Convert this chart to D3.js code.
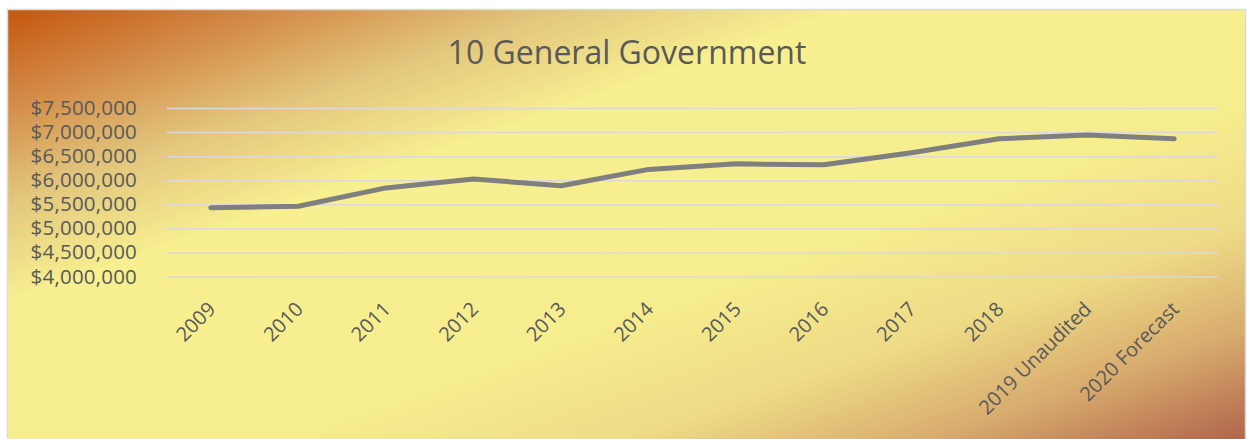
<!DOCTYPE html>
<html>
<head>
<meta charset="utf-8">
<script src="https://cdn.jsdelivr.net/npm/d3@7"></script>
<style>
  body { margin: 0; background: #fff; }
  svg text { font-family: "Open Sans", sans-serif; fill: #595959; }
</style>
</head>
<body>
<svg id="chart" width="1247" height="439"></svg>
<script>
const years = ["2009", "2010", "2011", "2012", "2013", "2014", "2015", "2016", "2017", "2018", "2019 Unaudited", "2020 Forecast"]
const spending = [5430000, 5460000, 5840000, 6025000, 5885000, 6225000, 6340000, 6320000, 6570000, 6860000, 6940000, 6860000]
const yTicks = [4000000, 4500000, 5000000, 5500000, 6000000, 6500000, 7000000, 7500000]

let svg = d3.select("#chart")
let width = 1247, height = 439
let margin = { top: 108, right: 29, bottom: 162.5, left: 167 }

// background gradient like the office preset
let defs = svg.append("defs")
let grad = defs.append("linearGradient")
    .attr("id", "bg")
    .attr("x1", 0).attr("y1", 0)
    .attr("x2", 1).attr("y2", 1)
let stops = [
    [0, "#c4560e"], [0.12, "#d4904c"], [0.22, "#e2c57c"],
    [0.34, "#f7ef90"], [0.6, "#f6ee8e"], [0.75, "#eedb86"],
    [0.87, "#d8ac6e"], [1, "#b0644a"]
]
grad.selectAll("stop")
    .data(stops)
    .enter()
    .append("stop")
    .attr("offset", d => d[0])
    .attr("stop-color", d => d[1])

svg.append("rect")
    .attr("x", 7.5).attr("y", 9.5)
    .attr("width", width - 9).attr("height", height - 8)
    .style("fill", "url(#bg)")
    .style("stroke", "#d9d9d9")
    .style("stroke-width", 1.5)

let x = d3.scaleBand()
    .domain(years)
    .range([margin.left, width - margin.right])

let y = d3.scaleLinear()
    .domain([4000000, 7500000])
    .range([height - margin.bottom, margin.top])

// gridlines
let yAxis = svg.append("g")
    .attr("class", "y axis")
    .attr("transform", `translate(${margin.left},0)`)
    .call(d3.axisLeft(y)
        .tickValues(yTicks)
        .tickSize(-(width - margin.left - margin.right))
        .tickPadding(30)
        .tickFormat(d => "$" + d3.format(",")(d)))

yAxis.select(".domain").remove()
yAxis.selectAll("line")
    .style("stroke", "#d9d9d9")
    .style("stroke-width", 1.5)
yAxis.selectAll("text")
    .style("font-size", "20.5px")
    .style("letter-spacing", "0.2px")
    .style("fill", "#595959")

// category labels, slanted
let xAxis = svg.append("g")
    .attr("class", "x axis")
    .attr("transform", `translate(0,${height - margin.bottom})`)
    .call(d3.axisBottom(x).tickSize(0).tickPadding(0))

xAxis.select(".domain").remove()
xAxis.selectAll("text")
    .attr("text-anchor", "end")
    .attr("dy", 0)
    .attr("transform", "translate(6,34) rotate(-45)")
    .style("font-size", "20px")
    .style("fill", "#595959")

let line = d3.line()
    .x((d, i) => x(years[i]) + x.bandwidth() / 2)
    .y(d => y(d))

svg.append("path")
    .datum(spending)
    .attr("d", line)
    .style("fill", "none")
    .style("stroke", "#7f7f7f")
    .style("stroke-width", 5)
    .style("stroke-linecap", "round")
    .style("stroke-linejoin", "round")

svg.append("text")
    .attr("x", 627)
    .attr("y", 64)
    .attr("text-anchor", "middle")
    .text("10 General Government")
    .style("font-size", "32px")
</script>
</body>
</html>
